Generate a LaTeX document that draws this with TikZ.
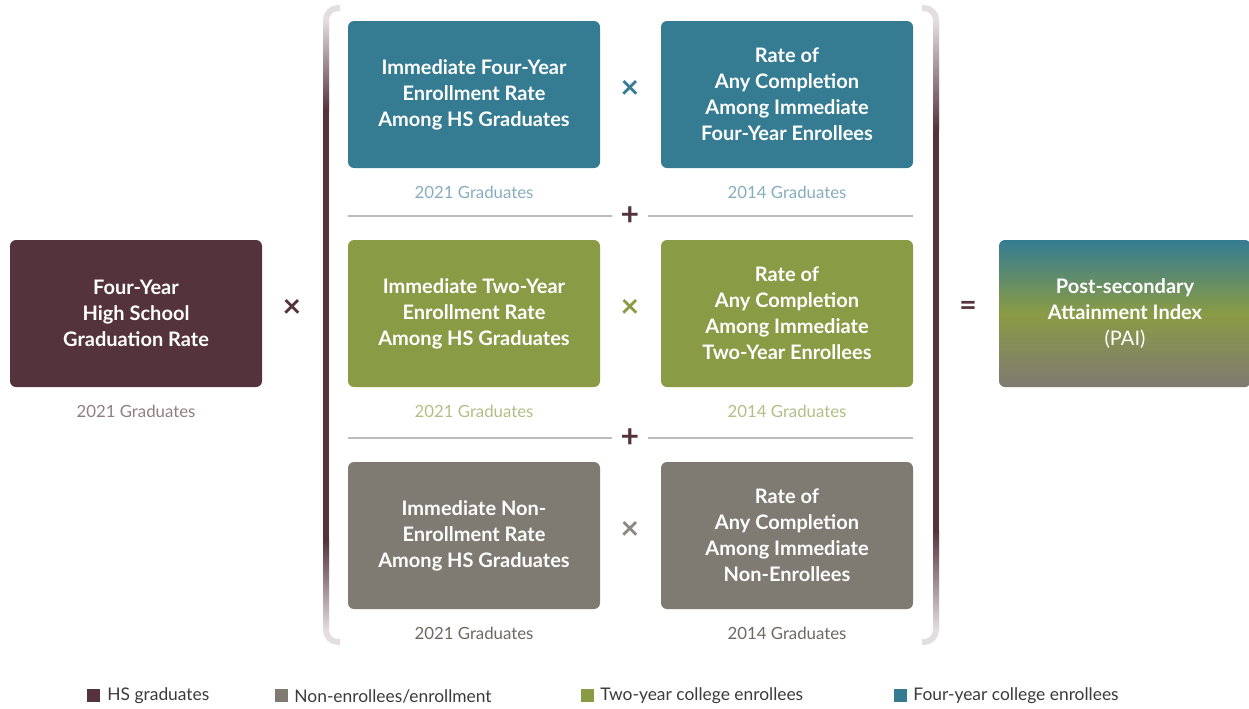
\documentclass[tikz,border=0pt]{standalone}
\usepackage{fontspec}
\setmainfont{Lato}
\definecolor{hsmaroon}{HTML}{55333D}
\definecolor{fourteal}{HTML}{357C93}
\definecolor{twoolive}{HTML}{8A9B45}
\definecolor{nongray}{HTML}{7F7A72}
\definecolor{capmaroon}{HTML}{8E7E82}
\definecolor{capteal}{HTML}{86ADBD}
\definecolor{capolive}{HTML}{B3BE85}
\definecolor{capgray}{HTML}{6C6862}
\definecolor{sepgray}{HTML}{BDBBBB}
\definecolor{bracketlight}{HTML}{E4DEE0}
\definecolor{legendtext}{HTML}{3A3A3A}
\begin{document}
\begin{tikzpicture}[x=0.5pt, y=-0.5pt,
    box/.style={rounded corners=3pt, minimum width=126pt, minimum height=73.5pt,
      align=center, text=white, inner sep=0pt,
      font=\bfseries\fontsize{10}{13}\selectfont},
    caption/.style={font=\fontsize{8.4}{10}\selectfont},
    op/.style={font=\bfseries\fontsize{16}{16}\selectfont, inner sep=0pt},
    plus/.style={font=\bfseries\fontsize{16}{16}\selectfont, text=hsmaroon,
      minimum width=18pt, inner sep=0pt},
    sep/.style={draw=sepgray, line width=0.7pt},
    bracket/.style={draw=bracketlight, line width=3pt, rounded corners=6pt},
    legbox/.style={minimum size=6.5pt, inner sep=0pt},
    legtext/.style={anchor=west, text=legendtext, inner sep=0pt,
      font=\fontsize{8.7}{10}\selectfont}]
    \useasboundingbox (0,0) rectangle (1249,708);

    % left factor
    \node[box, fill=hsmaroon] (hs) at (136, 313.5) {Four-Year\\High School\\Graduation Rate};
    \node[caption, text=capmaroon] (hscap) at (136, 411) {2021 Graduates};
    \node[op, text=hsmaroon] (times0) at (292, 308) {×};

    % brackets
    \draw[bracket] (340, 8) -- (326, 8) -- (326, 642) -- (340, 642);
    \draw[bracket] (922, 8) -- (936, 8) -- (936, 642) -- (922, 642);
    \shade[top color=bracketlight, bottom color=hsmaroon] (323, 20) rectangle (329, 110);
    \fill[hsmaroon] (323, 110) rectangle (329, 540);
    \shade[top color=hsmaroon, bottom color=bracketlight] (323, 540) rectangle (329, 630);
    \shade[top color=bracketlight, bottom color=hsmaroon] (933, 20) rectangle (939, 130);
    \fill[hsmaroon] (933, 130) rectangle (939, 530);
    \shade[top color=hsmaroon, bottom color=bracketlight] (933, 530) rectangle (939, 630);

    % four-year row
    \node[box, fill=fourteal] (fourenr) at (474, 94.5) {Immediate Four-Year\\Enrollment Rate\\Among HS Graduates};
    \node[box, fill=fourteal] (fourcomp) at (787, 94.5) {Rate of\\Any Completion\\Among Immediate\\Four-Year Enrollees};
    \node[op, text=fourteal] (times1) at (630, 89) {×};
    \node[caption, text=capteal] (fourenrcap) at (474, 192) {2021 Graduates};
    \node[caption, text=capteal] (fourcompcap) at (787, 192) {2014 Graduates};

    \node[plus] (plus1) at (630, 216) {+};
    \draw[sep] (fourenr.west |- plus1) -- (plus1.west);
    \draw[sep] (plus1.east) -- (fourcomp.east |- plus1);

    % two-year row
    \node[box, fill=twoolive] (twoenr) at (474, 313.5) {Immediate Two-Year\\Enrollment Rate\\Among HS Graduates};
    \node[box, fill=twoolive] (twocomp) at (787, 313.5) {Rate of\\Any Completion\\Among Immediate\\Two-Year Enrollees};
    \node[op, text=twoolive] (times2) at (630, 308) {×};
    \node[caption, text=capolive] (twoenrcap) at (474, 411) {2021 Graduates};
    \node[caption, text=capolive] (twocompcap) at (787, 411) {2014 Graduates};

    \node[plus] (plus2) at (630, 438) {+};
    \draw[sep] (twoenr.west |- plus2) -- (plus2.west);
    \draw[sep] (plus2.east) -- (twocomp.east |- plus2);

    % non-enrollee row
    \node[box, fill=nongray] (nonenr) at (474, 535.5) {Immediate Non-\\Enrollment Rate\\Among HS Graduates};
    \node[box, fill=nongray] (noncomp) at (787, 535.5) {Rate of\\Any Completion\\Among Immediate\\Non-Enrollees};
    \node[op, text=nongray!90] (times3) at (630, 530) {×};
    \node[caption, text=capgray] (nonenrcap) at (474, 633) {2021 Graduates};
    \node[caption, text=capgray] (noncompcap) at (787, 633) {2014 Graduates};

    % result
    \node[op, text=hsmaroon, font=\bfseries\fontsize{15}{15}\selectfont] (equals) at (968, 308) {=};
    \node[box, top color=fourteal, bottom color=nongray, middle color=twoolive] (pai) at (1125, 313.5)
      {Post-secondary\\Attainment Index\\\mdseries (PAI)};

    % legend
    \node[legbox, fill=hsmaroon] (leghs) at (93.5, 695) {};
    \node[legtext] (leghstext) at (107, 696) {HS graduates};
    \node[legbox, fill=nongray] (legnon) at (281.5, 695) {};
    \node[legtext] (legnontext) at (294, 696) {Non-enrollees/enrollment};
    \node[legbox, fill=twoolive] (legtwo) at (587.5, 695) {};
    \node[legtext] (legtwotext) at (600, 696) {Two-year college enrollees};
    \node[legbox, fill=fourteal] (legfour) at (900.5, 695) {};
    \node[legtext] (legfourtext) at (913, 696) {Four-year college enrollees};
\end{tikzpicture}
\end{document}
